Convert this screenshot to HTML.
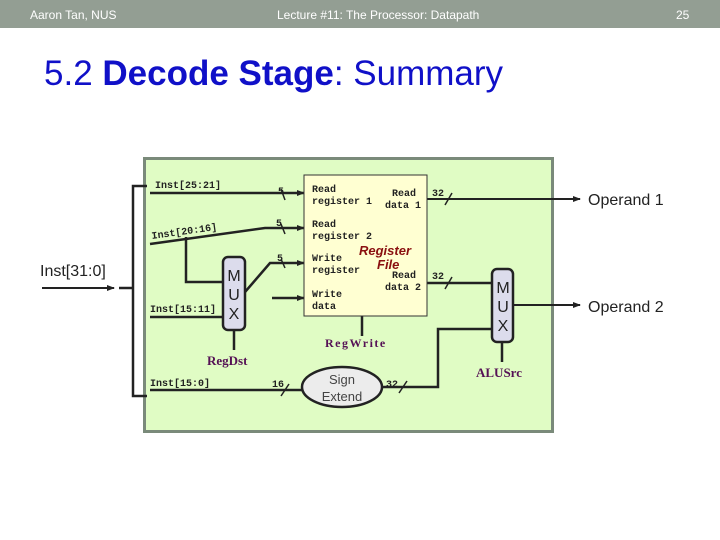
<!DOCTYPE html>
<html><head><style>
body{margin:0;width:720px;height:540px;background:#fff;position:relative;overflow:hidden;font-family:"Liberation Sans",sans-serif}
.hdr{position:absolute;left:0;top:0;width:720px;height:28px;background:#939e93;color:#fff;font-size:12px}
.hdr span{position:absolute;top:8px}
</style></head><body>
<div class="hdr"><span style="left:30px">Aaron Tan, NUS</span><span style="left:277px">Lecture #11: The Processor: Datapath</span><span style="left:676px">25</span></div>
<div style="position:absolute;left:44px;top:54px;font-size:35px;color:#1010c8;white-space:nowrap">5.2 <b>Decode Stage</b>: Summary</div>
<svg width="720" height="540" style="position:absolute;left:0;top:0" font-family="Liberation Mono, monospace">
<defs><marker id="a" markerWidth="8" markerHeight="8" refX="7" refY="4" orient="auto" markerUnits="userSpaceOnUse"><path d="M0,1 L8,4 L0,7z" fill="#222"/></marker></defs>
<rect x="144.5" y="158.5" width="408" height="273" fill="#e0fcc4" stroke="#7a8a7a" stroke-width="3"/>
<g stroke="#222" stroke-width="2.5" fill="none">
<path d="M42,288 H114" stroke-width="2" marker-end="url(#a)"/>
<path d="M119,288 H133"/>
<path d="M147,186 H133 V396 H147"/>
<path d="M150,193 H304" marker-end="url(#a)"/>
<path d="M150,244 L265,228 H304" marker-end="url(#a)"/>
<path d="M186,237 V282 H223"/>
<path d="M150,317 H223"/>
<path d="M245,292 L270,263 H304" marker-end="url(#a)"/>
<path d="M272,298 H304" marker-end="url(#a)"/>
<path d="M362,316 V336"/>
<path d="M234,330 V350"/>
<path d="M150,390 H302"/>
<path d="M382,387 H438 V329 H492"/>
<path d="M502,342 V362"/>
<path d="M427,199 H580" stroke-width="2" marker-end="url(#a)"/>
<path d="M427,283 H492"/>
<path d="M513,305 H580" stroke-width="2" marker-end="url(#a)"/>
</g>
<g stroke="#222" stroke-width="1.5">
<line x1="281" y1="189" x2="285" y2="200"/><line x1="281" y1="224" x2="285" y2="234"/>
<line x1="281" y1="259" x2="285" y2="268"/><line x1="445" y1="205" x2="452" y2="193"/>
<line x1="445" y1="289" x2="452" y2="277"/><line x1="281" y1="396" x2="289" y2="384"/>
<line x1="399" y1="393" x2="407" y2="381"/>
</g>
<rect x="304" y="175" width="123" height="141" fill="#ffffd2" stroke="#333" stroke-width="1"/>
<rect x="223" y="257" width="22" height="73" rx="5" fill="#dcdcec" stroke="#222" stroke-width="2.5"/>
<rect x="492" y="269" width="21" height="73" rx="5" fill="#dcdcec" stroke="#222" stroke-width="2.5"/>
<ellipse cx="342" cy="387" rx="40" ry="20" fill="#ececec" stroke="#222" stroke-width="2.5"/>
<g font-family="Liberation Sans, sans-serif" font-size="16" fill="#222" text-anchor="middle">
<text x="234" y="281">M</text><text x="234" y="300">U</text><text x="234" y="319">X</text>
<text x="503" y="293">M</text><text x="503" y="312">U</text><text x="503" y="331">X</text>
</g>
<g font-family="Liberation Sans, sans-serif" fill="#222">
<text x="40" y="276" font-size="16">Inst[31:0]</text>
<text x="588" y="205" font-size="16">Operand 1</text>
<text x="588" y="312" font-size="16">Operand 2</text>
<text x="342" y="384" font-size="13" text-anchor="middle" fill="#444">Sign</text>
<text x="342" y="401" font-size="13" text-anchor="middle" fill="#444">Extend</text>
</g>
<g font-size="10" font-weight="bold" fill="#222">
<text x="155" y="188">Inst[25:21]</text>
<text x="152" y="239" transform="rotate(-8 152 239)">Inst[20:16]</text>
<text x="150" y="312">Inst[15:11]</text>
<text x="150" y="386">Inst[15:0]</text>
<text x="278" y="194">5</text><text x="276" y="226">5</text><text x="277" y="261">5</text>
<text x="432" y="196">32</text><text x="432" y="279">32</text>
<text x="272" y="387">16</text><text x="386" y="387">32</text>
<text x="312" y="192">Read</text><text x="312" y="204">register 1</text>
<text x="392" y="196">Read</text><text x="385" y="208">data 1</text>
<text x="312" y="227">Read</text><text x="312" y="239">register 2</text>
<text x="312" y="261">Write</text><text x="312" y="273">register</text>
<text x="392" y="278">Read</text><text x="385" y="290">data 2</text>
<text x="312" y="297">Write</text><text x="312" y="309">data</text>
</g>
<g font-size="13" font-weight="bold" fill="#551155" font-family="Liberation Serif, serif">
<text x="325" y="347" font-size="12" letter-spacing="1.5">RegWrite</text>
<text x="207" y="365">RegDst</text>
<text x="476" y="377">ALUSrc</text>
</g>
<g font-family="Liberation Sans, sans-serif" font-style="italic" font-weight="bold" font-size="13" fill="#8a1010">
<text x="359" y="255">Register</text><text x="377" y="269">File</text>
</g>
</svg>
</body></html>
